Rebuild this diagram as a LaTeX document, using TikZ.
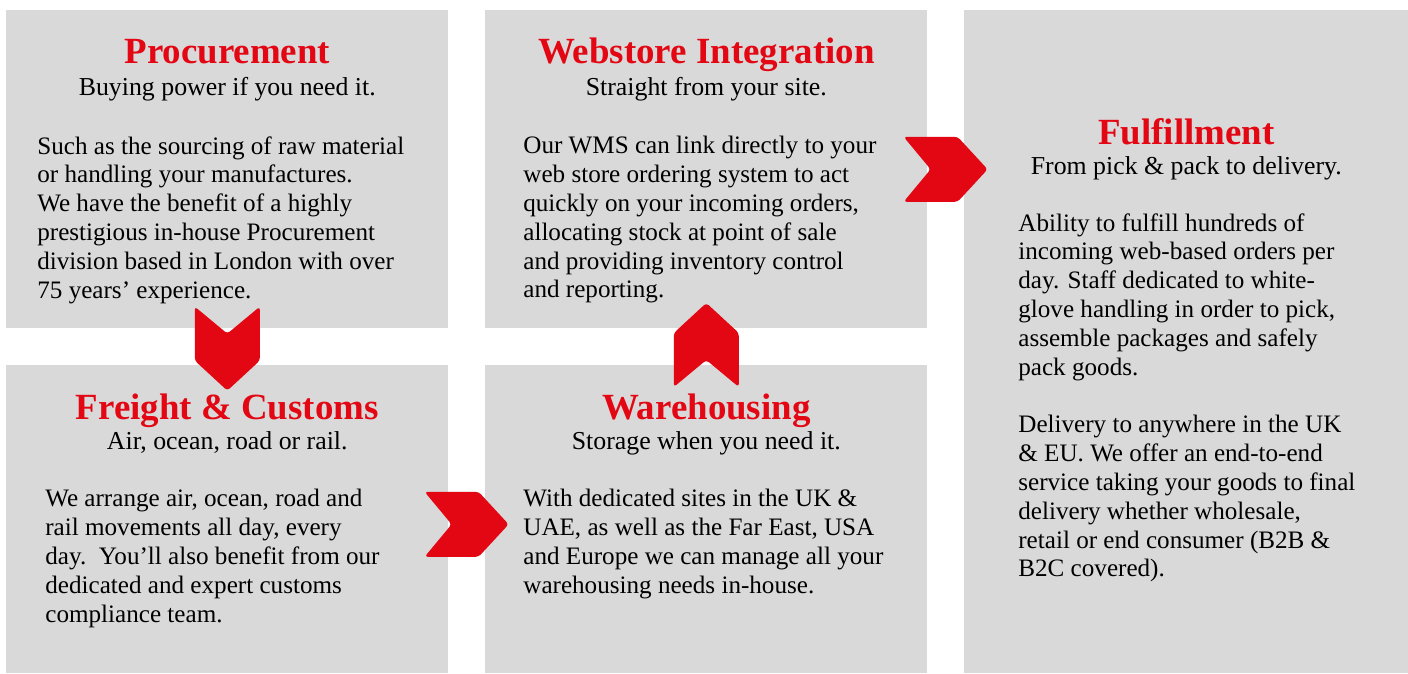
\documentclass[tikz,border=0pt]{standalone}
\usepackage{fontspec}
\setmainfont{Liberation Serif}
\definecolor{panelgray}{HTML}{D9D9D9}
\definecolor{brandred}{HTML}{E30613}
\tikzset{
  panel/.style={fill=panelgray, inner sep=0pt, anchor=north west},
  heading/.style={font=\fontsize{21}{25}\selectfont\bfseries, text=brandred, anchor=base, inner sep=0pt},
  tagline/.style={font=\fontsize{14.7}{17}\selectfont, anchor=base, inner sep=0pt},
  blurb/.style={font=\fontsize{14.3}{16.4}\selectfont, align=left, anchor=north west, inner sep=0pt},
  chevron/.pic={\fill[brandred, rounded corners=1.8pt] (0,-32.5) -- (54,-32.5) -- (84,0) -- (54,32.5) -- (0,32.5) -- (27,0) -- cycle;}
}
\begin{document}
\begin{tikzpicture}[x=0.02cm, y=-0.02cm]
    \useasboundingbox (0,0) rectangle (1408,673);
    % panels
    \node[panel, minimum width=8.84cm, minimum height=6.36cm] (proc) at (6,10) {};
    \node[panel, minimum width=8.84cm, minimum height=6.36cm] (web) at (485,10) {};
    \node[panel, minimum width=8.88cm, minimum height=13.26cm] (ful) at (964,10) {};
    \node[panel, minimum width=8.84cm, minimum height=6.16cm] (frt) at (6,365) {};
    \node[panel, minimum width=8.84cm, minimum height=6.16cm] (ware) at (485,365) {};
    % procurement
    \node[heading] (procH) at ([yshift=-1.08cm]proc.north) {Procurement};
    \node[tagline] (procT) at ([yshift=-0.64cm]procH.base) {Buying power if you need it.};
    \node[blurb] (procB) at ([shift={(31,126)}]proc.north west) {Such as the sourcing of raw material\\
      or handling your manufactures.\\ We have the benefit of a highly\\ prestigious in-house Procurement\\
      division based in London with over\\ 75 years’ experience.};
    % webstore integration
    \node[heading] (webH) at ([yshift=-1.08cm]web.north) {Webstore Integration};
    \node[tagline] (webT) at ([yshift=-0.64cm]webH.base) {Straight from your site.};
    \node[blurb] (webB) at ([shift={(38,126)}]web.north west) {Our WMS can link directly to your\\
      web store ordering system to act\\ quickly on your incoming orders,\\ allocating stock at point of sale\\
      and providing inventory control\\ and reporting.};
    % fulfillment
    \node[heading] (fulH) at ([yshift=-2.7cm]ful.north) {Fulfillment};
    \node[tagline] (fulT) at ([yshift=-0.6cm]fulH.base) {From pick \& pack to delivery.};
    \node[blurb] (fulB) at ([shift={(54,203)}]ful.north west) {Ability to fulfill hundreds of\\
      incoming web-based orders per\\ day. Staff dedicated to white-\\ glove handling in order to pick,\\
      assemble packages and safely\\ pack goods.\\[16.4pt] Delivery to anywhere in the UK\\
      \& EU. We offer an end-to-end\\ service taking your goods to final\\ delivery whether wholesale,\\
      retail or end consumer (B2B \&\\ B2C covered).};
    % freight & customs
    \node[heading] (frtH) at ([yshift=-1.1cm]frt.north) {Freight \& Customs};
    \node[tagline] (frtT) at ([yshift=-0.6cm]frtH.base) {Air, ocean, road or rail.};
    \node[blurb] (frtB) at ([shift={(39,124)}]frt.north west) {We arrange air, ocean, road and\\
      rail movements all day, every\\ day.\ \ You’ll also benefit from our\\ dedicated and expert customs\\
      compliance team.};
    % warehousing
    \node[heading] (wareH) at ([yshift=-1.1cm]ware.north) {Warehousing};
    \node[tagline] (wareT) at ([yshift=-0.6cm]wareH.base) {Storage when you need it.};
    \node[blurb] (wareB) at ([shift={(38,124)}]ware.north west) {With dedicated sites in the UK \&\\
      UAE, as well as the Far East, USA\\ and Europe we can manage all your\\ warehousing needs in-house.};
    % chevrons
    \pic[rotate=-90] at ([yshift=0.44cm]proc.south) {chevron};
    \pic[rotate=90] at ([yshift=-0.44cm]ware.north) {chevron};
    \pic at ([xshift=-0.48cm]web.east) {chevron};
    \pic at ([xshift=-0.48cm, yshift=-0.1cm]frt.east) {chevron};
\end{tikzpicture}
\end{document}
